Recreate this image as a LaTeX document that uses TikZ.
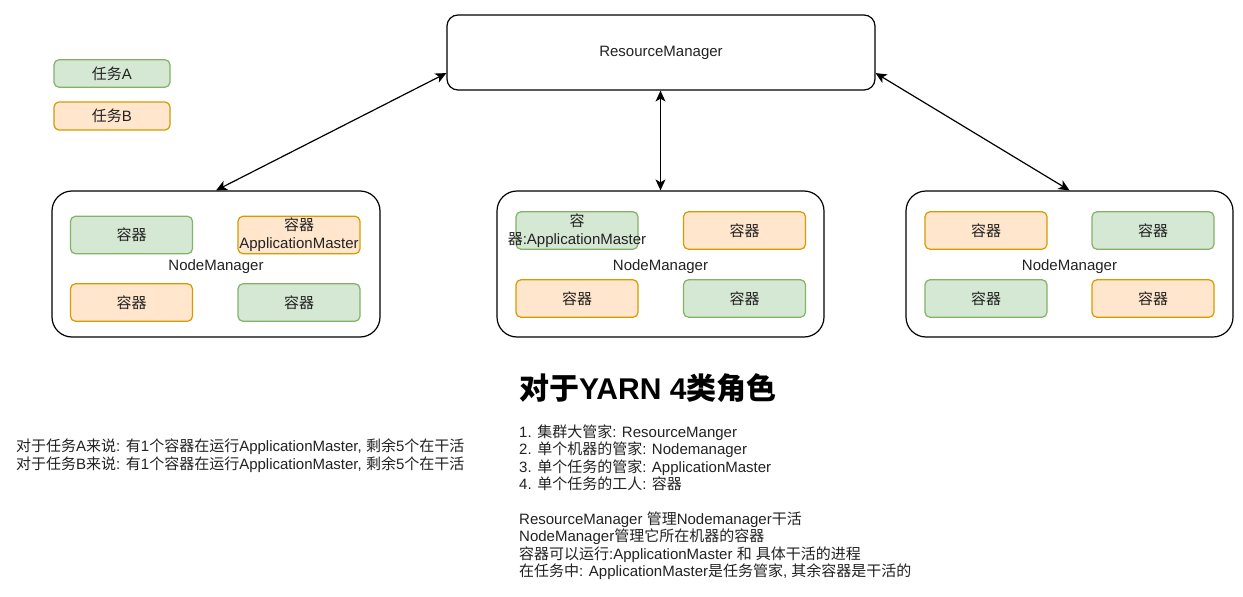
\documentclass[tikz,border=0pt]{standalone}
\usepackage{fontspec}
\setmainfont{Liberation Sans}
\newfontfamily\cjk{Noto Sans CJK SC}
\usetikzlibrary{arrows.meta,calc}
\newcommand\zh[1]{{\cjk #1}}
\definecolor{gfill}{HTML}{D5E8D4}
\definecolor{gdraw}{HTML}{82B366}
\definecolor{ofill}{HTML}{FFE6CC}
\definecolor{odraw}{HTML}{D79B00}
\definecolor{txt}{HTML}{222222}
\begin{document}
\begin{tikzpicture}[x=1pt,y=-1pt,
  font=\fontsize{15}{18}\selectfont, text=txt,
  bigbox/.style={draw=black, line width=1.2pt, rounded corners=#1, inner sep=0pt, fill=white},
  gbox/.style={draw=gdraw, fill=gfill, line width=1.2pt, rounded corners=5pt, inner sep=0pt,
    minimum width=122pt, minimum height=37.5pt, align=center},
  obox/.style={draw=odraw, fill=ofill, line width=1.2pt, rounded corners=5pt, inner sep=0pt,
    minimum width=122pt, minimum height=37.5pt, align=center},
  arr/.style={line width=1.2pt, {Stealth[length=11pt,width=10pt,inset=3pt]}-{Stealth[length=11pt,width=10pt,inset=3pt]}}
]
\useasboundingbox[fill=white] (0,0) rectangle (1243,597);

% ResourceManager
\node[bigbox=11pt, minimum width=428pt, minimum height=75pt] (rm) at (661,52.5) {};
\node (rmlab) at (661,53) {ResourceManager};

% legend
\node[gbox, minimum width=116pt, minimum height=27.5pt] (la) at (112,73.5) {\zh{任务}A};
\node[obox, minimum width=116pt, minimum height=28pt] (lb) at (112,116) {\zh{任务}B};

% NodeManagers
\node[bigbox=20pt, minimum width=328pt, minimum height=146pt] (nm1) at (216,264) {};
\node[bigbox=20pt, minimum width=327pt, minimum height=146pt] (nm2) at (660.5,264) {};
\node[bigbox=20pt, minimum width=327pt, minimum height=146pt] (nm3) at (1069.5,264) {};

\node[anchor=base] (nm1lab) at (216,270) {NodeManager};
\node[anchor=base] (nm2lab) at (660.5,270) {NodeManager};
\node[anchor=base] (nm3lab) at (1069.5,270) {NodeManager};

% containers NM1
\node[gbox] (c11) at (131.5,235) {\zh{容器}};
\node[obox] (c12) at (299,235) {\zh{容器}\\ApplicationMaster};
\node[obox] (c13) at (131.5,302.5) {\zh{容器}};
\node[gbox] (c14) at (299,302.5) {\zh{容器}};

% containers NM2
\node[gbox] (c21) at (577,230.5) {\zh{容}\\\makebox[0pt]{\zh{器}:ApplicationMaster}};
\node[obox] (c22) at (744.5,230.5) {\zh{容器}};
\node[obox] (c23) at (577,298.5) {\zh{容器}};
\node[gbox] (c24) at (744.5,298.5) {\zh{容器}};

% containers NM3
\node[obox] (c31) at (986,230.5) {\zh{容器}};
\node[gbox] (c32) at (1153,230.5) {\zh{容器}};
\node[gbox] (c33) at (986,298.5) {\zh{容器}};
\node[obox] (c34) at (1153,298.5) {\zh{容器}};

% arrows
\coordinate (rmL) at ($(rm.south west)!0.23!(rm.north west)$);
\coordinate (rmR) at ($(rm.south east)!0.23!(rm.north east)$);
\draw[arr] (rmL) -- (nm1.north);
\draw[arr] (rm.south -| nm2.north) -- (nm2.north);
\draw[arr] (rmR) -- (nm3.north);

% title and notes
\node[anchor=base west, inner sep=0pt, font=\fontsize{30}{36}\selectfont\bfseries, text=black] (title) at (519,399)
  {{\cjk\bfseries 对于}YARN 4{\cjk\bfseries 类角色}};

\node[anchor=base west, inner sep=0pt, align=left, font=\fontsize{15}{17.4}\selectfont] (notes) at (519,576.7)
  {1. \zh{集群大管家}: ResourceManger\\
   2. \zh{单个机器的管家}: Nodemanager\\
   3. \zh{单个任务的管家}: ApplicationMaster\\
   4. \zh{单个任务的工人}: \zh{容器}\\[17.4pt]
   ResourceManager \zh{管理}Nodemanager\zh{干活}\\
   NodeManager\zh{管理它所在机器的容器}\\
   \zh{容器可以运行}:ApplicationMaster \zh{和} \zh{具体干活的进程}\\
   \zh{在任务中}: ApplicationMaster\zh{是任务管家}, \zh{其余容器是干活的}};

\node[anchor=base west, inner sep=0pt, align=left, font=\fontsize{15}{18}\selectfont] (left) at (16,469.5)
  {\zh{对于任务}A\zh{来说}: \zh{有}1\zh{个容器在运行}ApplicationMaster, \zh{剩余}5\zh{个在干活}\\
   \zh{对于任务}B\zh{来说}: \zh{有}1\zh{个容器在运行}ApplicationMaster, \zh{剩余}5\zh{个在干活}};
\end{tikzpicture}
\end{document}
